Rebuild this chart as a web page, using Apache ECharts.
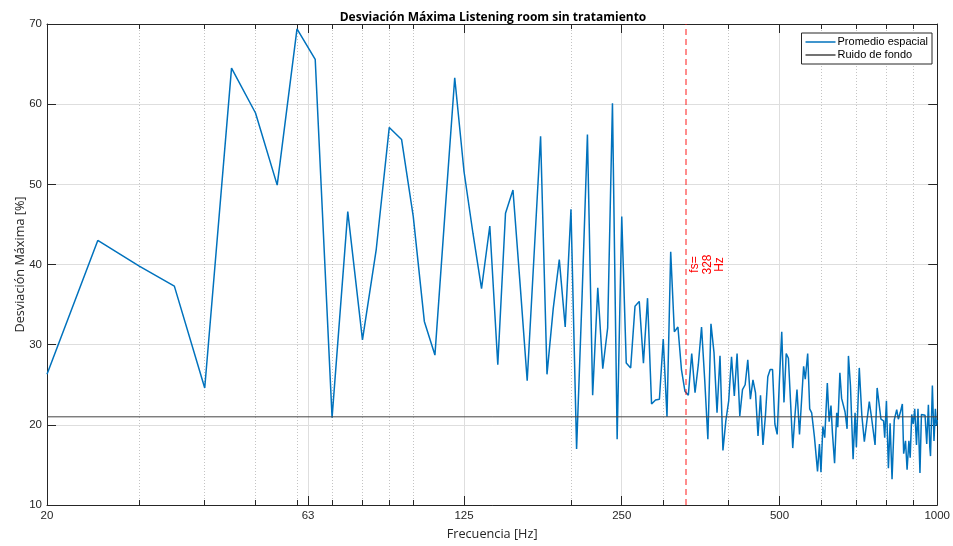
<!DOCTYPE html>
<html>
<head>
<meta charset="utf-8">
<title>Desviación Máxima Listening room sin tratamiento</title>
<script src="https://cdn.jsdelivr.net/npm/echarts@6/dist/echarts.min.js"></script>
<style>
  html, body { margin: 0; padding: 0; background: #ffffff; }
  #chart { width: 953px; height: 546px; }
</style>
</head>
<body>
<div id="chart"></div>
<script>
// Frequencies (Hz) of the spatial-average curve
const frequencies = [
  20, 25, 30, 35, 40, 45, 50, 55, 60, 65, 70, 75, 80, 85, 90, 95, 100,
  105, 110, 115, 120, 125, 130, 135, 140, 145, 150, 155, 160, 165, 170, 175, 180, 185, 190, 195, 200,
  205, 210, 215, 220, 225, 230, 235, 240, 245, 250, 255, 260, 265, 270, 275, 280, 285, 290, 295, 300,
  305, 310, 315, 320, 325, 330, 335, 340, 345, 350, 355, 360, 365, 370, 375, 380, 385, 390, 395, 400,
  405, 410, 415, 420, 425, 430, 435, 440, 445, 450, 455, 460, 465, 470, 475, 480, 485, 490, 495, 500,
  505, 510, 515, 520, 525, 530, 535, 540, 546, 556, 560, 566, 571, 576, 583, 591, 596, 600,
  605, 610, 617, 622, 627, 631, 637, 643, 646, 652, 657, 667, 673, 677, 683, 691, 697, 701,
  710, 718, 726, 731, 742, 750, 761, 768, 772, 781, 790, 794, 800,
  807, 813, 820, 828, 837, 843, 850, 858, 863, 870, 876, 883, 888, 894, 900,
  906, 913, 919, 927, 933, 939, 948, 955, 962, 968, 971, 979, 986, 992, 997, 1000
];

// Maximum deviation (%) for each frequency above
const promedioEspacial = [
  26.3, 43.0, 39.8, 37.3, 24.6, 64.5, 58.9, 49.9, 69.4, 65.6, 20.9, 46.6, 30.6, 41.9, 57.1, 55.6, 46.0,
  32.9, 28.7, 46.5, 63.3, 51.6, 43.9, 37.0, 44.8, 27.5, 46.4, 49.3, 37.4, 25.5, 41.0, 56.0, 26.3, 34.5, 40.6, 32.2, 46.9,
  17.0, 36.0, 56.2, 23.7, 37.1, 27.0, 32.1, 60.1, 18.2, 46.0, 27.7, 27.1, 34.8, 35.4, 27.7, 35.8, 22.6, 23.1, 23.2, 30.7,
  21.0, 41.6, 31.6, 32.2, 26.9, 24.2, 23.7, 28.9, 24.0, 27.5, 32.2, 25.6, 18.2, 32.6, 29.0, 21.5, 28.6, 16.8, 20.5, 23.0,
  28.5, 23.6, 28.9, 21.1, 24.4, 25.0, 28.1, 23.2, 25.6, 24.0, 18.6, 23.7, 17.5, 21.1, 26.0, 26.9, 26.9, 20.1, 18.8, 25.7,
  31.6, 22.8, 28.9, 28.3, 22.8, 17.1, 21.0, 24.4, 18.8, 27.3, 25.7, 28.9, 22.0, 21.5, 18.5, 14.2, 17.6, 14.1,
  19.8, 18.4, 25.2, 20.4, 22.4, 19.0, 15.2, 21.5, 19.7, 26.5, 23.3, 21.6, 19.5, 28.6, 24.9, 15.7, 21.5, 17.2,
  27.1, 21.2, 17.9, 18.1, 22.9, 20.7, 17.5, 24.6, 24.6, 20.7, 20.5, 18.4, 23.0,
  14.6, 20.2, 13.2, 20.6, 21.9, 20.7, 21.5, 22.6, 16.4, 18.0, 14.4, 18.0, 15.9, 21.3, 20.1,
  22.0, 17.5, 22.0, 14.0, 21.3, 21.4, 21.2, 17.6, 22.5, 17.2, 16.1, 24.9, 18.0, 22.0, 19.9, 20.6
];

// Background noise level (%)
const ruidoDeFondo = 21.0;

// Schroeder frequency marker (Hz)
const fsFrequency = 328;

// Frequency axis range and tick values (Hz)
const freqRange = [20, 1000];
const majorFreqTicks = [20, 63, 125, 250, 500, 1000];
const minorFreqTicks = [30, 40, 50, 60, 70, 80, 90, 100, 200, 300, 400, 600, 700, 800, 900];

// Deviation axis range and step (%)
const yRange = [10, 70];
const yStep = 10;

const lg = Math.log10;
const axisColor = '#262626';
const markerRed = '#ff0000';
const markerLineColor = 'rgba(255, 0, 0, 0.6)';
const tickFont = { fontFamily: 'Liberation Sans, Arial, sans-serif', fontSize: 11.5, color: axisColor };
const nameFont = { fontFamily: 'Open Sans, Noto Sans, sans-serif', fontSize: 12.7, color: axisColor };

const chart = echarts.init(document.getElementById('chart'), null, { renderer: 'canvas' });

// A frequency axis: values are log10(Hz) so ticks can sit at arbitrary frequencies
function freqAxis(position, ticks, tickLen, opts) {
  const t = ticks.map(lg);
  return Object.assign({
    type: 'value',
    position: position,
    min: lg(freqRange[0]),
    max: lg(freqRange[1]),
    axisLine: { show: true, onZero: false, lineStyle: { color: axisColor, width: 1 } },
    axisTick: { show: true, inside: true, length: tickLen, customValues: t, lineStyle: { color: axisColor, width: 1 } },
    axisLabel: { show: false },
    splitLine: { show: false }
  }, opts || {});
}

const option = {
  animation: false,
  backgroundColor: '#ffffff',
  title: {
    text: 'Desviación Máxima Listening room sin tratamiento',
    left: 493,
    top: 12,
    padding: 0,
    textAlign: 'center',
    textStyle: { fontFamily: 'Open Sans, Noto Sans, sans-serif', fontSize: 12, fontWeight: 'bold', color: '#000000' }
  },
  legend: {
    orient: 'vertical',
    right: 21,
    top: 33,
    padding: [3, 4, 3, 4],
    itemGap: 1,
    itemWidth: 30,
    itemHeight: 1.5,
    icon: 'rect',
    backgroundColor: '#ffffff',
    borderColor: axisColor,
    borderWidth: 1,
    borderRadius: 0,
    textStyle: { fontFamily: 'Liberation Sans, Arial, sans-serif', fontSize: 11, color: '#000000', padding: [0, 0, 0, -3], lineHeight: 12 },
    data: ['Promedio espacial', 'Ruido de fondo']
  },
  grid: { left: 47, right: 14, top: 24, bottom: 40, containLabel: false },
  xAxis: [
    freqAxis('bottom', majorFreqTicks, 9, {
      name: 'Frecuencia [Hz]',
      nameLocation: 'middle',
      nameGap: 23,
      nameMoveOverlap: false,
      nameTextStyle: nameFont,
      axisLabel: {
        show: true, margin: 5,
        customValues: majorFreqTicks.map(lg),
        formatter: v => String(Math.round(Math.pow(10, v))),
        fontFamily: tickFont.fontFamily, fontSize: tickFont.fontSize, color: tickFont.color
      },
      splitLine: { show: true, lineStyle: { color: '#dedede', width: 1 } }
    }),
    freqAxis('bottom', minorFreqTicks, 5, {
      axisLine: { show: false },
      splitLine: { show: true, lineStyle: { color: '#c4c4c4', width: 1, type: [1, 2] } }
    }),
    freqAxis('top', majorFreqTicks, 9),
    freqAxis('top', minorFreqTicks, 5, { axisLine: { show: false } })
  ],
  yAxis: [
    {
      type: 'value',
      position: 'left',
      min: yRange[0], max: yRange[1], interval: yStep,
      name: 'Desviación Máxima [%]',
      nameLocation: 'middle',
      nameGap: 20,
      nameMoveOverlap: false,
      nameTextStyle: nameFont,
      axisLine: { show: true, onZero: false, lineStyle: { color: axisColor, width: 1 } },
      axisTick: { show: true, inside: true, length: 9, lineStyle: { color: axisColor, width: 1 } },
      axisLabel: { show: true, margin: 5, fontFamily: tickFont.fontFamily, fontSize: tickFont.fontSize, color: tickFont.color },
      splitLine: { show: true, lineStyle: { color: '#dedede', width: 1 } }
    },
    {
      type: 'value',
      position: 'right',
      min: yRange[0], max: yRange[1], interval: yStep,
      axisLine: { show: true, onZero: false, lineStyle: { color: axisColor, width: 1 } },
      axisTick: { show: true, inside: true, length: 9, lineStyle: { color: axisColor, width: 1 } },
      axisLabel: { show: false },
      splitLine: { show: false }
    }
  ],
  series: [
    {
      name: 'Promedio espacial',
      type: 'line',
      xAxisIndex: 0,
      yAxisIndex: 0,
      symbol: 'none',
      showSymbol: false,
      color: '#0072BD',
      lineStyle: { color: '#0072BD', width: 1.5 },
      data: frequencies.map((f, i) => [lg(f), promedioEspacial[i]]),
      markLine: {
        silent: true,
        symbol: 'none',
        animation: false,
        lineStyle: { color: markerLineColor, width: 1.5, type: [6, 4], opacity: 1 },
        label: {
          show: true,
          position: 'insideMiddleBottom',
          formatter: 'fs=\n' + fsFrequency + '\nHz',
          color: markerRed,
          opacity: 1,
          fontFamily: 'Liberation Sans, Arial, sans-serif',
          fontSize: 12,
          lineHeight: 12.5,
          distance: 3
        },
        emphasis: { disabled: true },
        data: [{ xAxis: lg(fsFrequency) }]
      }
    },
    {
      name: 'Ruido de fondo',
      type: 'line',
      xAxisIndex: 0,
      yAxisIndex: 0,
      symbol: 'none',
      showSymbol: false,
      color: '#444444',
      lineStyle: { color: '#444444', width: 1 },
      data: freqRange.map(f => [lg(f), ruidoDeFondo])
    }
  ]
};

chart.setOption(option);
</script>
</body>
</html>
